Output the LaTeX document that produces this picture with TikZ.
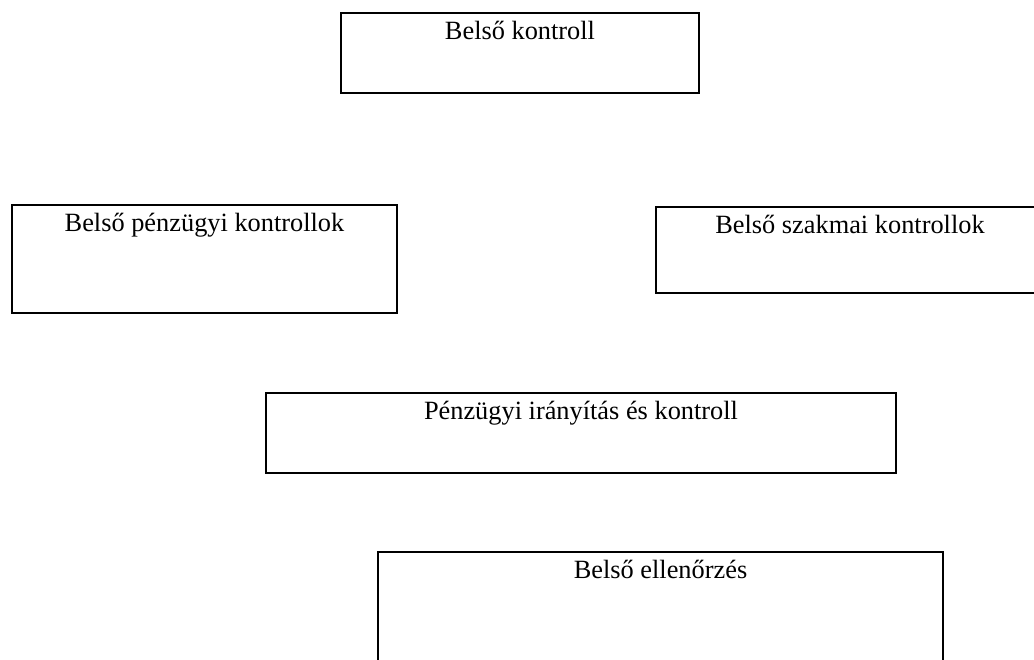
\documentclass[tikz,border=0pt]{standalone}
\usepackage{fontspec}
\setmainfont{Liberation Serif}
\usepackage{tikz}
\usetikzlibrary{positioning}

\begin{document}
\begin{tikzpicture}[
          x=0.02cm, y=-0.02cm,
          box/.style={draw, line width=1.1pt, inner sep=0pt},
          ttl/.style={anchor=north, inner sep=0pt, yshift=-0.17cm, font=\fontsize{15pt}{18pt}\selectfont}
      ]
        \clip (0,0) rectangle (1034,659);
        \node[box, minimum width=7.16cm, minimum height=1.6cm, label={[ttl]north:Belső kontroll}] (bk) at (520,53) {};
        \node[box, minimum width=7.7cm, minimum height=2.16cm, label={[ttl]north:Belső pénzügyi kontrollok}] (bpk) at (204.5,259) {};
        \node[box, minimum width=7.76cm, minimum height=1.72cm, label={[ttl]north:Belső szakmai kontrollok}] (bszk) at (850,250) {};
        \node[box, minimum width=12.6cm, minimum height=1.6cm, label={[ttl]north:Pénzügyi irányítás és kontroll}] (pik) at (581,433) {};
        \node[box, minimum width=11.3cm, minimum height=2.96cm, label={[ttl]north:Belső ellenőrzés}] (be) at (660.5,626) {};
      \end{tikzpicture}
\end{document}
